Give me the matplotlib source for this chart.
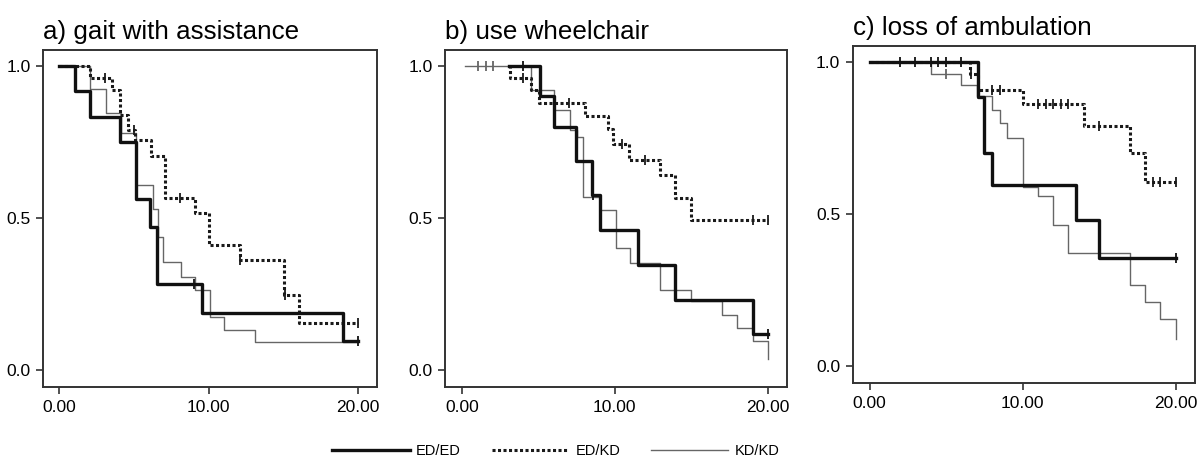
import numpy as np
import matplotlib
matplotlib.use("Agg")
import matplotlib.pyplot as plt
from matplotlib.lines import Line2D

plt.rcParams['font.family'] = ['Liberation Sans', 'DejaVu Sans']

titles = ["a) gait with assistance", "b) use wheelchair", "c) loss of ambulation"]
groups = ["ED/ED", "ED/KD", "KD/KD"]

# panel a
a_eded_t = [0, 1.05, 2.05, 4.05, 5.1, 6.05, 6.55, 9.55, 19.0, 20.0]
a_eded_s = [1.0, 0.917, 0.833, 0.75, 0.562, 0.469, 0.281, 0.188, 0.094, 0.094]
a_eded_c = [9.0, 20.0]
a_edkd_t = [0, 2.05, 3.5, 4.05, 4.6, 5.05, 6.15, 7.1, 9.05, 10.0, 12.1, 15.05, 16.05, 20.0]
a_edkd_s = [1.0, 0.96, 0.92, 0.84, 0.79, 0.755, 0.705, 0.565, 0.515, 0.41, 0.36, 0.245, 0.155, 0.155]
a_edkd_c = [3.05, 5.0, 8.05, 12.1, 15.1, 19.0, 20.0]
a_kdkd_t = [0.15, 2.05, 3.1, 4.15, 5.15, 6.25, 6.6, 6.95, 8.15, 9.05, 10.05, 11.05, 13.1, 20.0]
a_kdkd_s = [1.0, 0.925, 0.845, 0.78, 0.607, 0.53, 0.436, 0.354, 0.307, 0.263, 0.173, 0.13, 0.09, 0.09]
a_kdkd_c = []

# panel b
b_eded_t = [3.1, 5.1, 6.0, 7.45, 8.5, 9.0, 11.5, 13.9, 19.0, 20.0]
b_eded_s = [1.0, 0.90, 0.80, 0.687, 0.575, 0.46, 0.345, 0.23, 0.117, 0.117]
b_eded_c = [4.0, 8.6, 20.0]
b_edkd_t = [3.1, 3.15, 4.55, 5.05, 8.05, 9.55, 9.9, 10.95, 12.95, 13.95, 14.95, 20.0]
b_edkd_s = [1.0, 0.96, 0.92, 0.88, 0.836, 0.794, 0.743, 0.692, 0.64, 0.566, 0.493, 0.493]
b_edkd_c = [4.0, 7.0, 10.5, 12.0, 19.0, 20.0]
b_kdkd_t = [0.2, 4.55, 6.0, 7.1, 7.5, 7.9, 9.05, 10.05, 11.0, 12.95, 14.95, 17.0, 18.0, 19.0, 20.0]
b_kdkd_s = [1.0, 0.92, 0.855, 0.79, 0.765, 0.57, 0.525, 0.40, 0.35, 0.263, 0.225, 0.18, 0.137, 0.093, 0.035]
b_kdkd_c = [1.05, 1.6, 2.05]

# panel c
c_eded_t = [0, 7.1, 7.5, 8.0, 13.5, 15.0, 20.0]
c_eded_s = [1.0, 0.885, 0.70, 0.597, 0.48, 0.355, 0.355]
c_eded_c = [2.0, 3.0, 4.0, 4.5, 5.0, 6.0, 20.0]
c_edkd_t = [0, 6.55, 7.1, 10.0, 14.0, 17.0, 18.0, 20.0]
c_edkd_s = [1.0, 0.96, 0.91, 0.863, 0.79, 0.70, 0.605, 0.605]
c_edkd_c = [6.6, 8.0, 8.5, 11.0, 11.5, 12.0, 12.5, 13.0, 15.0, 18.5, 19.0, 20.0]
c_kdkd_t = [0, 4.0, 6.0, 7.0, 8.0, 8.5, 9.0, 10.0, 11.0, 12.0, 13.0, 17.0, 18.0, 19.0, 20.0]
c_kdkd_s = [1.0, 0.96, 0.925, 0.887, 0.843, 0.80, 0.75, 0.59, 0.56, 0.465, 0.372, 0.265, 0.21, 0.155, 0.088]
c_kdkd_c = [5.0]

panels = [
    [(a_eded_t, a_eded_s, a_eded_c), (a_edkd_t, a_edkd_s, a_edkd_c), (a_kdkd_t, a_kdkd_s, a_kdkd_c)],
    [(b_eded_t, b_eded_s, b_eded_c), (b_edkd_t, b_edkd_s, b_edkd_c), (b_kdkd_t, b_kdkd_s, b_kdkd_c)],
    [(c_eded_t, c_eded_s, c_eded_c), (c_edkd_t, c_edkd_s, c_edkd_c), (c_kdkd_t, c_kdkd_s, c_kdkd_c)],
]

styles = [
    dict(color="#111111", lw=2.4, ls="-"),
    dict(color="#1a1a1a", lw=2.2, ls=(0, (1.0, 0.8))),
    dict(color="#666666", lw=1.0, ls="-"),
]

boxes = [
    [0.0358, 0.1605, 0.278, 0.731],
    [0.3705, 0.1605, 0.2848, 0.731],
    [0.7100, 0.1690, 0.2848, 0.731],
]

fig = plt.figure(figsize=(12.01, 4.61), dpi=100)

for k in range(3):
    ax = fig.add_axes(boxes[k])
    for (t, s, c), st in zip(panels[k][::-1], styles[::-1]):
        ax.step(t, s, where="post", **st)
        if len(c) > 0:
            idx = np.searchsorted(t, c, side="right") - 1
            ax.plot(c, np.array(s)[idx], "|", color=st["color"], ms=7, mew=1.3)
    ax.set_xlim(-1.1, 21.25)
    ax.set_ylim(-0.057, 1.053)
    ax.set_xticks([0, 10, 20])
    ax.set_xticklabels(["0.00", "10.00", "20.00"])
    ax.set_yticks([0, 0.5, 1.0])
    ax.set_yticklabels(["0.0", "0.5", "1.0"])
    ax.tick_params(labelsize=12.5, length=5, width=1.2, color="#333333", pad=4)
    for sp in ax.spines.values():
        sp.set_linewidth(1.4)
        sp.set_color("#333333")
    ax.set_title(titles[k], loc="left", fontsize=18.7, pad=8)

handles = [Line2D([], [], **st) for st in styles]
fig.legend(handles, groups, loc="center", bbox_to_anchor=(0.463, 0.022), ncol=3,
           frameon=False, fontsize=10.5, handlelength=5.3, handletextpad=0.45,
           columnspacing=2.1)

fig.savefig("out.png", dpi=100)
